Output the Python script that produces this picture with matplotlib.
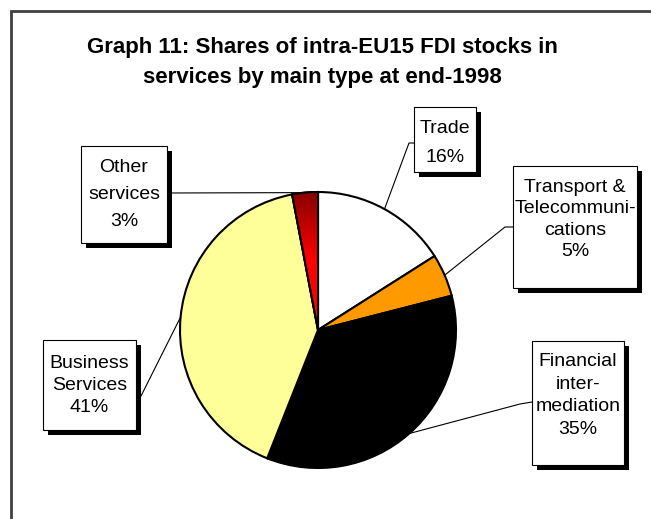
import numpy as np
import matplotlib.pyplot as plt
from matplotlib.patches import Rectangle, Wedge
from matplotlib.colors import LinearSegmentedColormap

plt.rcParams['font.family'] = ['Liberation Sans', 'DejaVu Sans']

labels = [['Trade'], ['Transport &', 'Telecommuni-', 'cations'], ['Financial', 'inter-', 'mediation'],
          ['Business', 'Services'], ['Other', 'services']]
shares = [16, 5, 35, 41, 3]
colors = ['white', '#FF9900', 'black', '#FFFF99', '#CC0000']

W, H = 651, 519
fig = plt.figure(figsize=(W / 100, H / 100), dpi=100)
ax = fig.add_axes([0, 0, 1, 1])

def Y(y):
    # image rows -> axis units
    return H - y

cx, cy, r = 318, Y(330), 138
wedges, _ = ax.pie(shares, colors=colors, startangle=90, counterclock=False,
                   center=(cx, cy), radius=r,
                   wedgeprops=dict(edgecolor='black', linewidth=1.5))
ax.set_xlim(0, W)
ax.set_ylim(0, H)
ax.axis('off')

# outer frame: right and bottom edges fall outside the picture
ax.add_patch(Rectangle((11, -40), W + 40, Y(11) + 40, fill=False, edgecolor='#404040',
                       lw=2, clip_on=True, zorder=0))

ax.text(322, Y(47), 'Graph 11: Shares of intra-EU15 FDI stocks in', ha='center', va='center',
        fontsize=16, fontweight='bold')
ax.text(322, Y(77), 'services by main type at end-1998', ha='center', va='center',
        fontsize=16, fontweight='bold')

# gradient on the last slice, dark at the top
grad = np.linspace(0, 1, 256).reshape(-1, 1)
cmap = LinearSegmentedColormap.from_list('red', ['#FF0000', '#FF0000', '#800000'])
im = ax.imshow(grad, cmap=cmap, extent=(cx - 40, cx + 5, cy - 5, cy + r + 5),
               origin='lower', aspect='auto', zorder=wedges[-1].get_zorder() + 0.1)
im.set_clip_path(wedges[-1])
ax.add_patch(Wedge((cx, cy), r, wedges[-1].theta1, wedges[-1].theta2, fill=False,
                   edgecolor='black', linewidth=1.5, zorder=im.get_zorder() + 0.1))
ax.set_xlim(0, W)
ax.set_ylim(0, H)

# label boxes: (left, top, right, bottom) in image pixels, elbow of the leader line,
# middle of the text block and line step (px)
boxes = [(414, 107, 476, 172), (513, 166, 637, 288), (532, 341, 624, 465),
         (43, 340, 136, 430), (81, 146, 167, 243)]
elbows = [((409, 143), (414, 143)), ((505, 227), (513, 227)), ((520, 404), (532, 402)),
          ((140, 398), (136, 398)), ((167, 193), (167, 193))]
text_mid = [140.5, 217, 393, 383, 192]
text_step = [29, 21.3, 22.7, 22.5, 27]

for w, lab, val, (x0, y0, x1, y1), (e1, e2), tm, ts in zip(
        wedges, labels, shares, boxes, elbows, text_mid, text_step):
    ang = np.deg2rad((w.theta1 + w.theta2) / 2)
    px, py = cx + r * np.cos(ang), cy + r * np.sin(ang)
    ax.plot([px, e1[0], e2[0]], [py, Y(e1[1]), Y(e2[1])], color='black', lw=0.8, zorder=1)
    ax.add_patch(Rectangle((x0 + 5, Y(y1 + 5)), x1 - x0, y1 - y0, facecolor='black',
                           edgecolor='none', zorder=5))
    ax.add_patch(Rectangle((x0, Y(y1)), x1 - x0, y1 - y0, facecolor='white',
                           edgecolor='black', lw=0.8, zorder=6))
    lines = lab + [f'{val}%']
    n = len(lines)
    for i, s in enumerate(lines):
        yc = tm + (i - (n - 1) / 2) * ts
        ax.text((x0 + x1) / 2, Y(yc + 7), s, ha='center', va='baseline',
                fontsize=14, zorder=7)

fig.savefig('out.png', dpi=100)
